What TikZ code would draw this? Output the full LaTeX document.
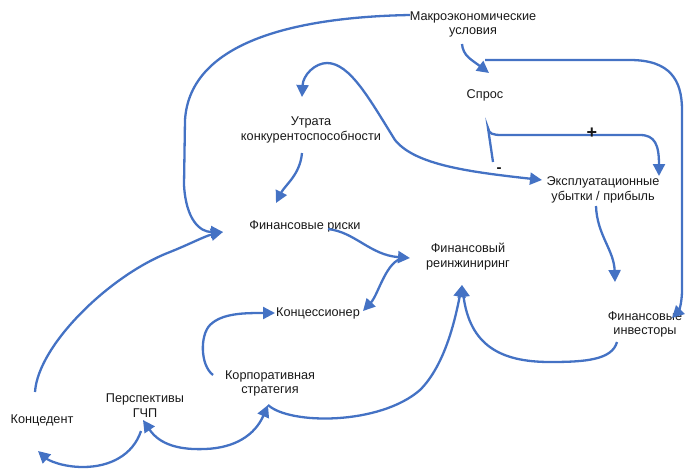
\documentclass[tikz,border=0pt]{standalone}
\usepackage{fontspec}
\setmainfont{Liberation Sans}
\usetikzlibrary{arrows.meta}
\definecolor{lnk}{RGB}{68,114,196}
\definecolor{txt}{RGB}{25,25,25}
\begin{document}
\begin{tikzpicture}[x=1pt,y=-1pt,
  lbl/.style={inner sep=0pt,align=center,text=txt,font=\fontsize{12.7}{14.8}\selectfont},
  link/.style={draw=lnk,line width=2.3pt,-{Triangle[length=12pt,width=12pt]}},
  blink/.style={draw=lnk,line width=2.3pt,{Triangle[length=12pt,width=12pt]}-{Triangle[length=12pt,width=12pt]}}]
\path[use as bounding box] (0,0) rectangle (686,472);

% nodes
\node[lbl] (makro) at (473,24.5) {Макроэкономические\\условия};
\node[lbl] (spros) at (485,95) {Спрос};
\node[lbl] (utrata) at (311,130) {Утрата\\конкурентоспособности};
\node[lbl] (expl) at (603,190) {Эксплуатационные\\убытки / прибыль};
\node[lbl] (risk) at (305,226) {Финансовые риски};
\node[lbl] (reeng) at (468,256.5) {Финансовый\\реинжиниринг};
\node[lbl] (konc) at (318,313) {Концессионер};
\node[lbl] (invest) at (645,324.5) {Финансовые\\инвесторы};
\node[lbl] (korp) at (270,383.5) {Корпоративная\\стратегия};
\node[lbl] (gchp) at (145,406) {Перспективы\\ГЧП};
\node[lbl] (kced) at (42,420) {Концедент};

% connector end points
\coordinate (makroL) at (410,15);
\coordinate (riskIn) at (223,232);
\coordinate (makroB) at (462,44);
\coordinate (sprosIn) at (489,73);
\coordinate (topL) at (485,60);
\coordinate (investIn) at (672,318);
\coordinate (sprosB) at (493,162);
\coordinate (explTop) at (659,176);
\coordinate (utrataIn) at (302,97);
\coordinate (explIn) at (542,180);
\coordinate (utrataB) at (302,153);
\coordinate (riskTop) at (276,203);
\coordinate (riskR) at (328,229);
\coordinate (reengIn) at (410,258);
\coordinate (reengL) at (400,259);
\coordinate (koncIn) at (363,311);
\coordinate (korpTL) at (213,375);
\coordinate (koncL) at (275,313);
\coordinate (investB) at (617,342);
\coordinate (reengB) at (462,285);
\coordinate (korpB) at (268,405);
\coordinate (gchpB) at (143,420);
\coordinate (gchpL) at (141,431);
\coordinate (kcedB) at (38,451);
\coordinate (kcedT) at (35,392);
\coordinate (explB) at (596,206);
\coordinate (investT) at (615,282);

% connectors
\draw[link] (makroL) .. controls (300,17) and (190,40) .. (185,120)
  -- (184,185) .. controls (186,220) and (200,232) .. (riskIn);
\draw[link] (kcedT) .. controls (38,345) and (110,275) .. (170,252)
  .. controls (190,244) and (205,236) .. (riskIn);
\draw[link] (makroB) .. controls (463,56) and (472,60) .. (sprosIn);
\draw[link] (topL) -- (630,60) .. controls (670,60) and (682,80) .. (682,110)
  -- (682,290) .. controls (682,305) and (678,312) .. (investIn);
\draw[link] (sprosB) -- (488,128) .. controls (489,134) and (493,135) .. (502,135)
  -- (640,135) .. controls (655,135) and (659,145) .. (explTop);
\draw[blink] (utrataIn) .. controls (303,75) and (315,63) .. (327,63)
  .. controls (350,63) and (370,100) .. (395,140)
  .. controls (415,165) and (470,172) .. (explIn);
\draw[link] (utrataB) .. controls (300,175) and (285,185) .. (riskTop);
\draw[link] (riskR) .. controls (355,232) and (370,255) .. (reengIn);
\draw[link] (reengL) .. controls (385,265) and (378,295) .. (koncIn);
\draw[link] (korpTL) .. controls (200,365) and (200,335) .. (210,325)
  .. controls (222,313) and (245,313) .. (koncL);
\draw[link] (investB) .. controls (612,360) and (585,362) .. (550,362)
  .. controls (500,362) and (470,345) .. (reengB);
\draw[link] (korpB) .. controls (290,425) and (380,425) .. (420,390)
  .. controls (445,365) and (455,320) .. (reengB);
\draw[blink] (gchpB) .. controls (160,445) and (180,450) .. (205,449)
  .. controls (235,448) and (255,435) .. (korpB);
\draw[link] (gchpL) .. controls (133,455) and (110,467) .. (83,467)
  .. controls (62,467) and (48,460) .. (kcedB);
\draw[link] (explB) .. controls (597,235) and (614,250) .. (investT);

% signs
\node[lbl,font=\fontsize{18}{18}\selectfont\bfseries] (plus) at (592,133) {+};
\node[lbl,font=\fontsize{15}{15}\selectfont\bfseries] (minus) at (499,170) {-};
\end{tikzpicture}
\end{document}
